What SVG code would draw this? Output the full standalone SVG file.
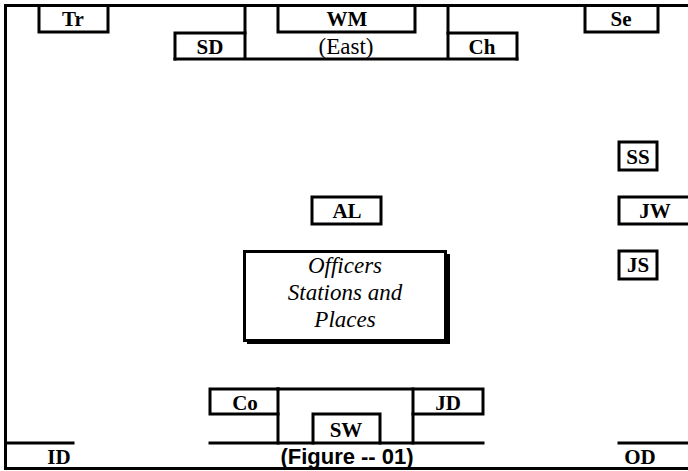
<svg xmlns="http://www.w3.org/2000/svg" width="688" height="471" viewBox="0 0 688 471">
<style>
.ln{fill:none;stroke:#000;stroke-width:3;stroke-linecap:square}
.lb{font-family:'Liberation Serif',Tinos,'DejaVu Serif',serif;font-weight:bold;font-size:21px;text-anchor:middle;fill:#000}
.rg{font-family:'Liberation Serif',Tinos,'DejaVu Serif',serif;font-size:23px;text-anchor:middle;fill:#000}
.it{font-family:'Liberation Serif',Tinos,'DejaVu Serif',serif;font-style:italic;font-size:23px;text-anchor:middle;fill:#000}
.sf{font-family:'Liberation Sans',Arial,sans-serif;font-weight:bold;font-size:22px;text-anchor:middle;fill:#000}
</style>
<rect width="688" height="471" fill="#fff"/>
<g id="connectors">
<path class="ln" d="M688 5.5H5.5V468.5H688"/>
<path class="ln" d="M245 5.5V59M448 5.5V59M175 59H517"/>
<path class="ln" d="M5.5 443H73M210 443H483M619 443H688"/>
<path class="ln" d="M278 389V443M413 389V443"/>
</g>
<g id="Tr"><path class="ln" d="M39 5.5V32H108V5.5"/><text class="lb" x="73" y="26">Tr</text></g>
<g id="WM"><path class="ln" d="M278 5.5V32H415V5.5"/><text class="lb" x="347" y="26">WM</text></g>
<g id="Se"><path class="ln" d="M585 5.5V32H658V5.5"/><text class="lb" x="621" y="26">Se</text></g>
<g id="SD"><path class="ln" d="M245 33H175V59"/><text class="lb" x="210" y="54">SD</text></g>
<g id="East"><text class="rg" x="346" y="54">(East)</text></g>
<g id="Ch"><path class="ln" d="M448 33H517V59"/><text class="lb" x="482" y="54">Ch</text></g>
<g id="SS"><rect class="ln" x="619" y="142" width="38" height="28"/><text class="lb" x="638" y="164">SS</text></g>
<g id="AL"><rect class="ln" x="312" y="197" width="69" height="27"/><text class="lb" x="347" y="218">AL</text></g>
<g id="JW"><path class="ln" d="M688 197H619V224H688"/><text class="lb" x="655" y="218">JW</text></g>
<g id="JS"><rect class="ln" x="619" y="251" width="38" height="28"/><text class="lb" x="638" y="272">JS</text></g>
<g id="Officers">
<rect x="247" y="254" width="203" height="90" fill="#000"/>
<rect x="244.5" y="251.5" width="201" height="89" fill="#fff" stroke="#000" stroke-width="3"/>
<text class="it" x="345" y="273">Officers</text>
<text class="it" x="345" y="300">Stations and</text>
<text class="it" x="345" y="327">Places</text>
</g>
<g id="Co"><path class="ln" d="M278 389H210V414H278"/><text class="lb" x="245" y="410">Co</text></g>
<g id="JD"><path class="ln" d="M278 389H483V414H413"/><text class="lb" x="448" y="410">JD</text></g>
<g id="SW"><path class="ln" d="M313 443V414H380V443"/><text class="lb" x="346" y="437">SW</text></g>
<g id="ID"><text class="lb" x="59" y="464">ID</text></g>
<g id="Figure"><text class="sf" x="347" y="464">(Figure -- 01)</text></g>
<g id="OD"><text class="lb" x="640" y="464">OD</text></g>
</svg>
